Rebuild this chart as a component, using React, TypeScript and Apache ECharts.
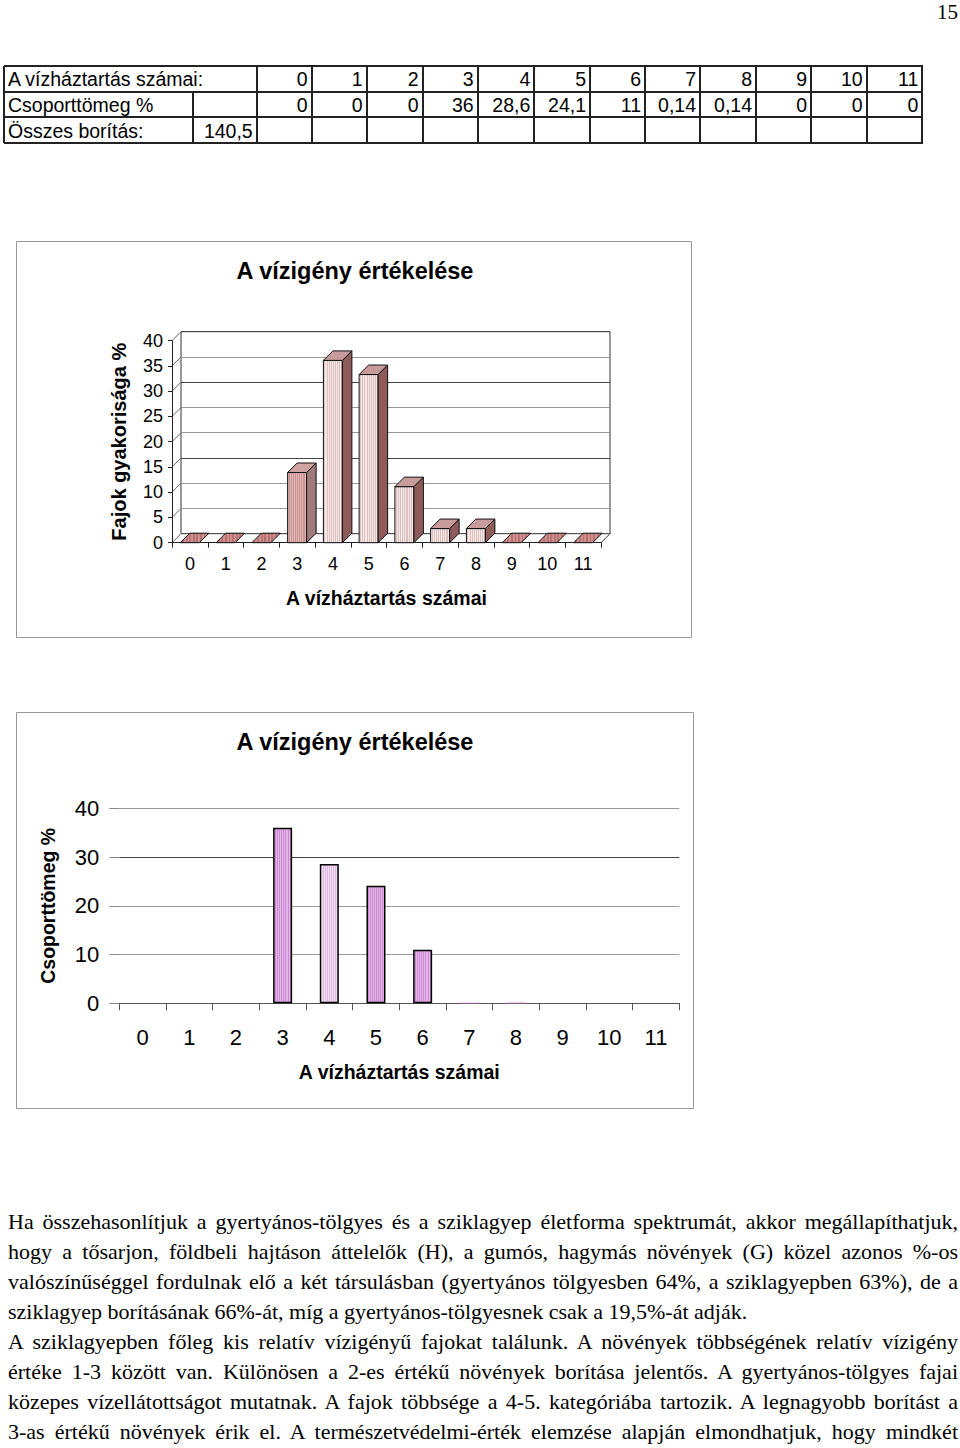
import React, { useEffect, useRef } from "react";
import * as echarts from "echarts";

// ---------- data ----------
const categories = ["0", "1", "2", "3", "4", "5", "6", "7", "8", "9", "10", "11"];
const speciesFrequency = [0, 0, 0, 13.9, 36.1, 33.3, 11.1, 2.8, 2.8, 0, 0, 0];
const groupMass = [0, 0, 0, 36, 28.6, 24.1, 11, 0.14, 0.14, 0, 0, 0];
const groupMassLabels = ["0", "0", "0", "36", "28,6", "24,1", "11", "0,14", "0,14", "0", "0", "0"];
const totalCoverLabel = "140,5";
const freqTicks = [0, 5, 10, 15, 20, 25, 30, 35, 40];
const rowLabels = ["A vízháztartás számai:", "Csoporttömeg %", "Összes borítás:"];
const chartTitle = "A vízigény értékelése";
const xName = "A vízháztartás számai";
const yName1 = "Fajok gyakorisága %";
const yName2 = "Csoporttömeg %";
const pageNumber = "15";
const paragraphLines = [
  "Ha összehasonlítjuk a gyertyános-tölgyes és a sziklagyep életforma spektrumát, akkor megállapíthatjuk,",
  "hogy a tősarjon, földbeli hajtáson áttelelők (H), a gumós, hagymás növények (G) közel azonos %-os",
  "valószínűséggel fordulnak elő a két társulásban (gyertyános tölgyesben 64%, a sziklagyepben 63%), de a",
  "sziklagyep borításának 66%-át, míg a gyertyános-tölgyesnek csak a 19,5%-át adják.",
  "A sziklagyepben főleg kis relatív vízigényű fajokat találunk. A növények többségének relatív vízigény",
  "értéke 1-3 között van. Különösen a 2-es értékű növények borítása jelentős. A gyertyános-tölgyes fajai",
  "közepes vízellátottságot mutatnak. A fajok többsége a 4-5. kategóriába tartozik. A legnagyobb borítást a",
  "3-as értékű növények érik el. A természetvédelmi-érték elemzése alapján elmondhatjuk, hogy mindkét",
];
const paragraphEnds = [3]; // index of the line that ends a paragraph (not justified)

// ---------- layout (not data) ----------
const SANS = "'Liberation Sans', Arial, sans-serif";
const SERIF = "'Liberation Serif', 'Times New Roman', serif";
const colX = [4, 193.3, 256.7, 311.7, 366.7, 422.7, 477.7, 534.3, 590, 645, 700, 756, 811, 866.7, 922.3];
const rowY = [66, 91.7, 116.7, 143.3];
const D = 9; // wall depth
const BD = 9.5; // bar depth

function stripes(a: string, b: string, n: number) {
  const colorStops: any[] = [];
  for (let k = 0; k < n; k++) {
    colorStops.push(
      { offset: k / n, color: a },
      { offset: (k + 0.5) / n, color: a },
      { offset: (k + 0.5) / n, color: b },
      { offset: (k + 1) / n, color: b }
    );
  }
  return { type: "linear", x: 0, y: 0, x2: 1, y2: 0, colorStops };
}

function Table() {
  const lines: React.ReactNode[] = [];
  rowY.forEach((y, i) => {
    lines.push(
      <div key={"h" + i} style={{ position: "absolute", left: colX[0], top: y - 1, width: colX[colX.length - 1] - colX[0] + 1, height: 2, background: "#222" }} />
    );
  });
  for (let r = 0; r < 3; r++) {
    const y0 = rowY[r];
    const y1 = rowY[r + 1];
    colX.forEach((x, c) => {
      if (c === 1 && r === 0) return;
      lines.push(
        <div key={`v${r}-${c}`} style={{ position: "absolute", left: x - 1, top: y0, width: 2, height: y1 - y0, background: "#222" }} />
      );
    });
  }
  const texts: React.ReactNode[] = [];
  const cellStyle = (x0: number, x1: number, r: number, align: "left" | "right"): React.CSSProperties => ({
    position: "absolute",
    left: x0,
    top: rowY[r] + 1,
    width: x1 - x0,
    height: rowY[r + 1] - rowY[r],
    lineHeight: rowY[r + 1] - rowY[r] + "px",
    fontFamily: SANS,
    fontSize: 19.5,
    color: "#000",
    textAlign: align,
    boxSizing: "border-box",
    paddingLeft: align === "left" ? 4 : 0,
    paddingRight: align === "right" ? 4 : 0,
    whiteSpace: "nowrap",
  });
  texts.push(<div key="r0" style={cellStyle(colX[0], colX[2], 0, "left")}>{rowLabels[0]}</div>);
  texts.push(<div key="r1" style={cellStyle(colX[0], colX[1], 1, "left")}>{rowLabels[1]}</div>);
  texts.push(<div key="r2" style={cellStyle(colX[0], colX[1], 2, "left")}>{rowLabels[2]}</div>);
  texts.push(<div key="tot" style={cellStyle(colX[1], colX[2], 2, "right")}>{totalCoverLabel}</div>);
  categories.forEach((c, i) => {
    texts.push(<div key={"c" + i} style={cellStyle(colX[i + 2], colX[i + 3], 0, "right")}>{c}</div>);
    texts.push(<div key={"m" + i} style={cellStyle(colX[i + 2], colX[i + 3], 1, "right")}>{groupMassLabels[i]}</div>);
  });
  return (
    <>
      {lines}
      {texts}
    </>
  );
}

function Paragraph() {
  return (
    <>
      {paragraphLines.map((line, i) => {
        const justify = !paragraphEnds.includes(i);
        return (
          <div
            key={i}
            style={{
              position: "absolute",
              left: 8,
              top: 1207 + i * 30,
              width: 950,
              height: 30,
              lineHeight: "30px",
              fontFamily: SERIF,
              fontSize: 22,
              color: "#000",
              textAlign: justify ? "justify" : "left",
              textAlignLast: justify ? "justify" : "left",
              whiteSpace: "nowrap",
            }}
          >
            {line}
          </div>
        );
      })}
    </>
  );
}

export default function App() {
  const ref = useRef<HTMLDivElement>(null);

  useEffect(() => {
    if (!ref.current) return;
    const chart = echarts.init(ref.current, null, { renderer: "svg" });

    const bars3d = speciesFrequency.map((v, i) => [i, v]);

    const option: any = {
      animation: false,
      backgroundColor: "transparent",
      textStyle: { fontFamily: SANS },
      graphic: [
        { type: "rect", shape: { x: 16.5, y: 241.5, width: 675, height: 396 }, style: { fill: "#fff", stroke: "#999", lineWidth: 1 }, z: -10 },
        { type: "rect", shape: { x: 16.5, y: 712.5, width: 677, height: 396 }, style: { fill: "#fff", stroke: "#999", lineWidth: 1 }, z: -10 },
        { type: "text", x: 355, y: 271, style: { text: chartTitle, textAlign: "center", textVerticalAlign: "middle", font: `bold 23.5px ${SANS}`, fill: "#000" } },
        { type: "text", x: 355, y: 742, style: { text: chartTitle, textAlign: "center", textVerticalAlign: "middle", font: `bold 23.5px ${SANS}`, fill: "#000" } },
      ],
      grid: [
        { left: 172, top: 340.7, width: 429, height: 202, outerBoundsMode: "none" },
        { left: 181, top: 331.7, width: 429, height: 202, show: true, borderColor: "#333", borderWidth: 1, backgroundColor: "transparent", outerBoundsMode: "none" },
        { left: 119.3, top: 808.3, width: 560, height: 195, outerBoundsMode: "none" },
      ],
      xAxis: [
        {
          gridIndex: 0,
          type: "category",
          data: categories,
          axisLine: { show: true, lineStyle: { color: "#222", width: 1 } },
          axisTick: { show: true, length: 5, lineStyle: { color: "#222" } },
          axisLabel: { fontSize: 18, color: "#000", margin: 12, fontFamily: SANS },
          name: xName,
          nameLocation: "middle",
          nameGap: 45,
          nameTextStyle: { fontSize: 19.5, fontWeight: "bold", color: "#000", fontFamily: SANS },
          splitLine: { show: false },
          z: 5,
        },
        { gridIndex: 1, type: "category", data: categories, show: false },
        {
          gridIndex: 2,
          type: "category",
          data: categories,
          axisLine: { show: true, lineStyle: { color: "#555", width: 1 } },
          axisTick: { show: true, length: 7, lineStyle: { color: "#555" } },
          axisLabel: { fontSize: 22, color: "#000", margin: 23, fontFamily: SANS },
          name: xName,
          nameLocation: "middle",
          nameGap: 59,
          nameTextStyle: { fontSize: 19.5, fontWeight: "bold", color: "#000", fontFamily: SANS },
        },
      ],
      yAxis: [
        {
          gridIndex: 0,
          type: "value",
          min: 0,
          max: 40,
          interval: 5,
          axisLine: { show: true, lineStyle: { color: "#222", width: 1 } },
          axisTick: { show: true, length: 4, lineStyle: { color: "#222" } },
          axisLabel: { fontSize: 18, color: "#000", margin: 9, fontFamily: SANS },
          splitLine: { show: false },
          name: yName1,
          nameLocation: "middle",
          nameRotate: 90,
          nameGap: 43,
          nameTextStyle: { fontSize: 20, fontWeight: "bold", color: "#000", fontFamily: SANS },
          z: 5,
        },
        {
          gridIndex: 1,
          type: "value",
          min: 0,
          max: 40,
          interval: 5,
          axisLine: { show: false },
          axisTick: { show: false },
          axisLabel: { show: false },
          splitLine: {
            show: true,
            lineStyle: { color: ["#555", "#999", "#999", "#444", "#999", "#999", "#444", "#999", "#444"], width: 1 },
          },
        },
        {
          gridIndex: 2,
          type: "value",
          min: 0,
          max: 40,
          interval: 10,
          axisLine: { show: false },
          axisTick: { show: true, length: 10, lineStyle: { color: "#888" } },
          axisLabel: { fontSize: 22, color: "#000", margin: 20, fontFamily: SANS },
          splitLine: { show: true, lineStyle: { color: ["#777", "#999", "#999", "#444", "#999"], width: 1 } },
          name: yName2,
          nameLocation: "middle",
          nameRotate: 90,
          nameGap: 61,
          nameTextStyle: { fontSize: 19.5, fontWeight: "bold", color: "#000", fontFamily: SANS },
        },
      ],
      series: [
        {
          type: "custom",
          name: "frame",
          xAxisIndex: 0,
          yAxisIndex: 0,
          silent: true,
          z: 1,
          data: [[0, 0]],
          renderItem: (_p: any, api: any) => {
            const bw = api.size([1, 0])[0];
            const xl = api.coord([0, 0])[0] - bw / 2;
            const xr = api.coord([categories.length - 1, 0])[0] + bw / 2;
            const children: any[] = freqTicks.map((t) => {
              const y = api.coord([0, t])[1];
              return { type: "line", shape: { x1: xl, y1: y, x2: xl + D, y2: y - D }, style: { stroke: "#666", lineWidth: 1 } };
            });
            const y0 = api.coord([0, 0])[1];
            children.push({ type: "line", shape: { x1: xr, y1: y0, x2: xr + D, y2: y0 - D }, style: { stroke: "#333", lineWidth: 1 } });
            return { type: "group", children };
          },
        },
        {
          type: "custom",
          name: "Fajok gyakorisága %",
          xAxisIndex: 0,
          yAxisIndex: 0,
          z: 10,
          data: bars3d,
          renderItem: (_p: any, api: any) => {
            const i = api.value(0);
            const v = api.value(1);
            const base = api.coord([i, 0]);
            const top = api.coord([i, v]);
            const w = 19;
            const x0 = base[0] - w / 2;
            const dark = i === 3;
            const front = dark ? stripes("#e2b4b4", "#c89494", 9) : stripes("#f6e8e8", "#dcc0c0", 9);
            const side = dark ? "#9e7a7a" : "#8e5a5a";
            const topFill = v === 0 ? stripes("#d09090", "#b87474", 8) : dark ? "#d0a2a2" : "#c89c9c";
            const children: any[] = [];
            const h = base[1] - top[1];
            if (h > 0.5) {
              children.push({
                type: "rect",
                shape: { x: x0, y: top[1], width: w, height: h },
                style: { fill: front, stroke: "#111", lineWidth: 1 },
              });
              children.push({
                type: "polygon",
                shape: { points: [[x0 + w, top[1]], [x0 + w + BD, top[1] - BD], [x0 + w + BD, base[1] - BD], [x0 + w, base[1]]] },
                style: { fill: side, stroke: "#111", lineWidth: 1 },
              });
            }
            children.push({
              type: "polygon",
              shape: { points: [[x0, top[1]], [x0 + BD, top[1] - BD], [x0 + w + BD, top[1] - BD], [x0 + w, top[1]]] },
              style: { fill: topFill, stroke: "#111", lineWidth: 1 },
            });
            return { type: "group", children };
          },
        },
        {
          type: "bar",
          name: "Csoporttömeg %",
          xAxisIndex: 2,
          yAxisIndex: 2,
          barWidth: 19,
          z: 5,
          data: groupMass.map((v, i) => ({
            value: v,
            itemStyle: {
              color: i === 4 ? stripes("#f4dcf4", "#dcbce0", 9) : stripes("#e6b2ea", "#c88ed0", 9),
              borderColor: "#000",
              borderWidth: v < 1 ? 0 : 1.5,
            },
          })),
        },
      ],
    };

    chart.setOption(option);
    return () => chart.dispose();
  }, []);

  return (
    <div style={{ position: "absolute", left: 0, top: 0, width: 960, height: 1448, background: "#fff", overflow: "hidden" }}>
      <div ref={ref} style={{ position: "absolute", left: 0, top: 0, width: 960, height: 1448 }} />
      <div style={{ position: "absolute", left: 930, top: 0, width: 28, lineHeight: "24px", fontFamily: SERIF, fontSize: 21, textAlign: "right", color: "#000" }}>
        {pageNumber}
      </div>
      <Table />
      <Paragraph />
    </div>
  );
}
